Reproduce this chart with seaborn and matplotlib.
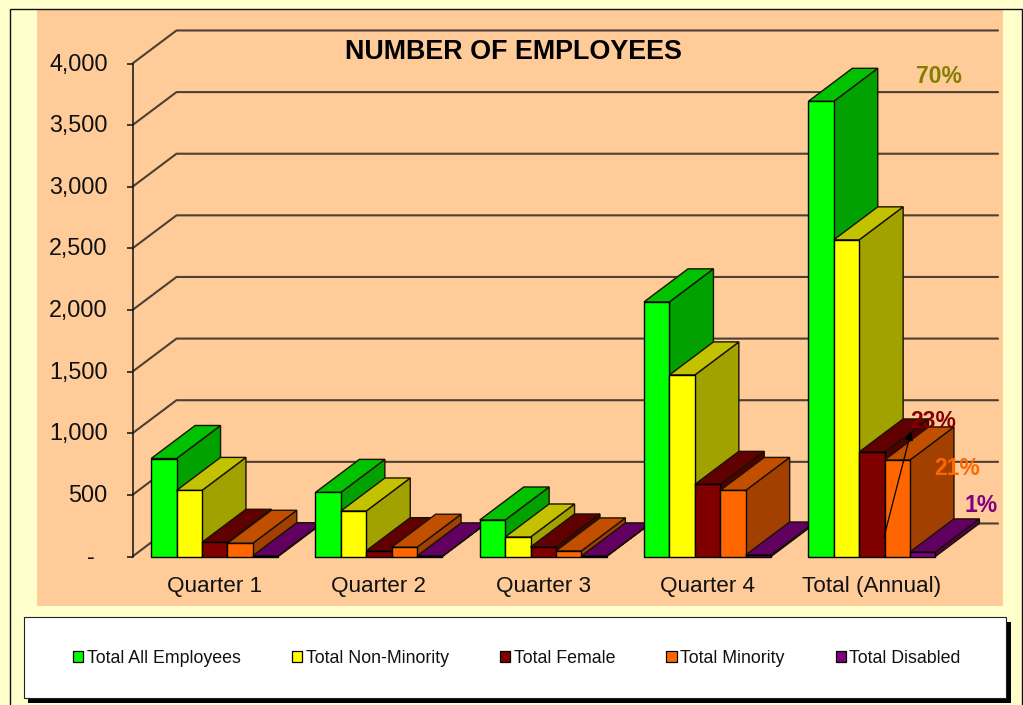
import matplotlib
matplotlib.use("Agg")
import matplotlib.pyplot as plt
import numpy as np
import pandas as pd
import seaborn as sns
from matplotlib.colors import to_rgb
from matplotlib.patches import Polygon, Rectangle
from matplotlib.ticker import FuncFormatter
from matplotlib.transforms import ScaledTranslation

# Head counts per reporting period
periods = ["Quarter 1", "Quarter 2", "Quarter 3", "Quarter 4", "Total (Annual)"]
series_names = ["Total All Employees", "Total Non-Minority", "Total Female",
                "Total Minority", "Total Disabled"]
all_employees = [795, 520, 296, 2066, 3693]
non_minority = [536, 369, 158, 1473, 2569]
female = [115, 47, 77, 585, 848]
minority = [107, 75, 45, 536, 783]
disabled = [6, 4, 4, 12, 37]
series_colors = ["#00FF00", "#FFFF00", "#800000", "#FF6600", "#800080"]
label_colors = {"Total Non-Minority": "#808000", "Total Female": "#800000",
                "Total Minority": "#FF6600", "Total Disabled": "#800080"}

W, H = 1023, 705
DEPTH_X = 44 / 164.3   # extrusion in category units
DEPTH_Y = 268.0        # extrusion in employee units


def fx(px):
    return px / W


def fy(py):
    return 1 - py / H


def shade(color, factor):
    return tuple(c * factor for c in to_rgb(color))


sns.set_theme(style="white")
plt.rcParams["font.family"] = ["Liberation Sans", "DejaVu Sans"]

df = pd.DataFrame({
    "period": np.tile(periods, len(series_names)),
    "series": np.repeat(series_names, len(periods)),
    "count": np.concatenate([all_employees, non_minority, female, minority, disabled]),
})

fig = plt.figure(figsize=(W / 100, H / 100), dpi=100, facecolor="#FFFFCC")

# Page furniture behind the plot
fig.add_artist(Rectangle((fx(37), fy(606)), fx(966), (606 - 9.5) / H, transform=fig.transFigure,
                         fc="#FFCC99", ec="none", zorder=-5))
fig.add_artist(Rectangle((fx(9.5), -0.01), fx(1012.5), fy(9.5) + 0.01, transform=fig.transFigure,
                         fc="none", ec="#111111", lw=1, zorder=-4))
fig.add_artist(Rectangle((fx(28), fy(702.5)), fx(983), 81 / H, transform=fig.transFigure,
                         fc="black", ec="none", zorder=-3))
fig.add_artist(Rectangle((fx(23.5), fy(698)), fx(982.5), 81 / H, transform=fig.transFigure,
                         fc="white", ec="#222222", lw=0.8, zorder=-2))

ax = fig.add_axes([fx(132.5), fy(556.5), fx(954 - 132.5), (556.5 - 63.5) / H])
ax.patch.set_visible(False)

sns.barplot(data=df, x="period", y="count", hue="series", order=periods,
            hue_order=series_names, palette=series_colors, width=0.773, gap=0,
            saturation=1, edgecolor="black", linewidth=1.0, errorbar=None, ax=ax)

ax.set_xlim(-0.5, 4.5)
ax.set_ylim(0, 4000)
ax.set_xlabel("")
ax.set_ylabel("")

# Back wall and side wall rules
yticks = np.arange(0, 4001, 500)
for v in yticks:
    ax.plot([-0.5, -0.5 + DEPTH_X, 4.5 + DEPTH_X], [v, v + DEPTH_Y, v + DEPTH_Y],
            color="#4a4033", lw=1.5, clip_on=False, zorder=1, solid_joinstyle="round")

# Extrude each bar: side and top faces, painted left to right
bars = sorted(ax.patches, key=lambda p: p.get_x())
bars = [b for b in bars if b.get_width() > 0]
for i, bar in enumerate(bars):
    x0, w, h = bar.get_x(), bar.get_width(), bar.get_height()
    color = bar.get_facecolor()[:3]
    z = 3 + i * 3
    side = [(x0 + w, 0), (x0 + w + DEPTH_X, DEPTH_Y), (x0 + w + DEPTH_X, h + DEPTH_Y), (x0 + w, h)]
    top = [(x0, h), (x0 + DEPTH_X, h + DEPTH_Y), (x0 + w + DEPTH_X, h + DEPTH_Y), (x0 + w, h)]
    ax.add_patch(Polygon(side, fc=shade(color, 0.63), ec="#1a1200", lw=1.0, clip_on=False, zorder=z))
    ax.add_patch(Polygon(top, fc=shade(color, 0.76), ec="#1a1200", lw=1.0, clip_on=False, zorder=z + 1))
    bar.set_zorder(z + 2)
    bar.set_clip_on(False)

# Axis styling
sns.despine(ax=ax, top=True, right=True, bottom=True)
ax.spines["left"].set_color("#111111")
ax.spines["left"].set_linewidth(1.1)
ax.set_yticks(yticks)
ax.yaxis.set_major_formatter(FuncFormatter(lambda v, _: f"{int(v):,}" if v else "-  "))
ax.tick_params(axis="y", left=True, length=4.4, width=1.1, color="#111111", pad=13.5,
               labelsize=16.8, labelcolor="#111111")
ax.tick_params(axis="x", bottom=False, pad=8, labelsize=16.2, labelcolor="#111111")
lift = ScaledTranslation(0, 2 / 100, fig.dpi_scale_trans)
for tick_label in ax.get_yticklabels():
    tick_label.set_transform(tick_label.get_transform() + lift)

fig.text(fx(513.5), fy(52), "NUMBER OF EMPLOYEES", ha="center", va="center",
         fontsize=19.4, fontweight="bold", color="black")

# Share-of-total labels for the annual column
annual_total = all_employees[-1]
annual_values = {"Total Non-Minority": non_minority[-1], "Total Female": female[-1],
                 "Total Minority": minority[-1], "Total Disabled": disabled[-1]}
label_spots = {"Total Non-Minority": (4.409, 3892), "Total Female": (4.375, 1092),
               "Total Minority": (4.518, 711), "Total Disabled": (4.664, 410)}

ax.annotate("", xy=(4.238, 1010), xytext=(4.074, 158), annotation_clip=False, zorder=190,
            arrowprops=dict(arrowstyle="-|>", color="black", lw=0.9, mutation_scale=12,
                            shrinkA=0, shrinkB=0))
for name, value in annual_values.items():
    ax.text(*label_spots[name], f"{value / annual_total:.0%}", ha="center", va="center",
            fontsize=16.5, fontweight="bold", color=label_colors[name], clip_on=False, zorder=200)

# Legend inside the white strip
sns.move_legend(ax, "center", bbox_to_anchor=(fx(517), fy(658.4)), bbox_transform=fig.transFigure,
                ncol=5, frameon=False, title=None, fontsize=12.75, columnspacing=2.9,
                handlelength=0.57, handleheight=0.57, handletextpad=0.2, labelcolor="#111111")
for handle in ax.get_legend().legend_handles:
    handle.set_edgecolor("black")
    handle.set_linewidth(0.9)

fig.savefig("out.png", dpi=100, facecolor=fig.get_facecolor())
